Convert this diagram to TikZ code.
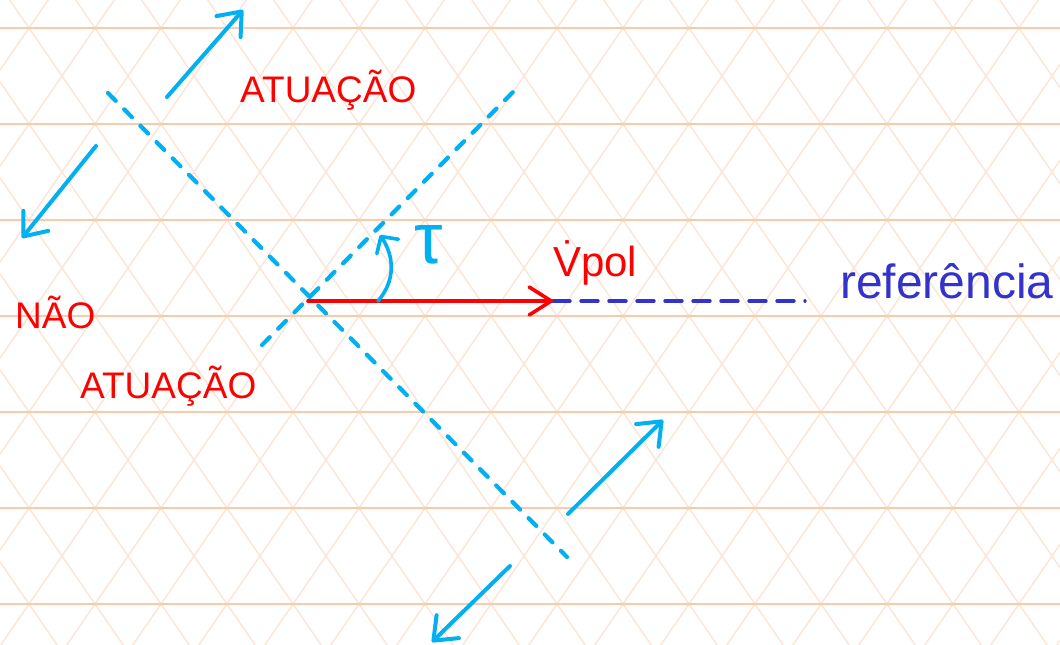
\documentclass[tikz,border=0pt]{standalone}
\usepackage{fontspec}
\setmainfont{Liberation Sans}
\usetikzlibrary{arrows.meta}
\definecolor{inkcyan}{RGB}{0,176,240}
\definecolor{inkred}{RGB}{255,0,0}
\definecolor{inkblue}{RGB}{51,51,204}
\definecolor{gridh}{RGB}{248,203,173}
\definecolor{gridd}{RGB}{251,229,214}
\begin{document}
\begin{tikzpicture}[x=1pt,y=-1pt,
  hline/.style={gridh, line width=1.8pt},
  dline/.style={gridd, line width=1.4pt},
  cyanarrow/.style={inkcyan, line width=4pt, line cap=round, -{Straight Barb[length=20pt,width=32pt,round]}},
  cyandash/.style={inkcyan, line width=4.2pt, line cap=round, dash pattern=on 11pt off 12pt},
  bluedash/.style={inkblue, line width=3.4pt, line cap=round, dash pattern=on 17pt off 11pt},
  redarrow/.style={inkred, line width=3.6pt, line cap=round, -{Straight Barb[length=22pt,width=28pt,round]}},
  anglearrow/.style={inkcyan, line width=3.6pt, line cap=round, -{Straight Barb[length=12pt,width=26pt,round]}},
  redlabel/.style={inkred, anchor=base west, inner sep=0pt, font=\fontsize{37}{40}\selectfont},
  bluelabel/.style={inkblue, anchor=base west, inner sep=0pt, font=\fontsize{48}{50}\selectfont}
]
\useasboundingbox (0,0) rectangle (1060,645);
\fill[white] (0,0) rectangle (1060,645);
\begin{scope}
\clip (0,0) rectangle (1060,645);
\foreach \j in {-8,...,16} \draw[dline] ({9.75+66*\j},0) -- ({453.19+66*\j},645);
\foreach \j in {-1,...,23} \draw[dline] ({48.25+66*\j},0) -- ({-395.19+66*\j},645);
\foreach \y in {28,124,...,604} \draw[hline] (0,\y) -- (1060,\y);
\end{scope}

% key points
\coordinate (o) at (308,301);
\coordinate (vtip) at (553,301);
\coordinate (refend) at (805,301);
\coordinate (d1a) at (108,93);
\coordinate (d1b) at (567,557);
\coordinate (d2a) at (262,345);
\coordinate (d2b) at (513,92);
\coordinate (arcS) at (378,301);
\coordinate (arcE) at (380,235);
\coordinate (a1s) at (167,97);
\coordinate (a1e) at (243,10);
\coordinate (a2s) at (96,146);
\coordinate (a2e) at (22,238);
\coordinate (a3s) at (568,514);
\coordinate (a3e) at (663,420);
\coordinate (a4s) at (510,566);
\coordinate (a4e) at (432,642);

% dashed boundary lines
\draw[cyandash] (d1a) -- (d1b);
\draw[cyandash] (d2a) -- (d2b);

% reference
\draw[bluedash] (vtip) -- (refend);
\draw[redarrow] (o) -- (vtip);

% angle
\draw[anglearrow] (arcS) .. controls (396,280) and (394,256) .. (arcE);

% direction arrows
\draw[cyanarrow] (a1s) -- (a1e);
\draw[cyanarrow] (a2s) -- (a2e);
\draw[cyanarrow] (a3s) -- (a3e);
\draw[cyanarrow] (a4s) -- (a4e);

% labels
\node[redlabel] (atop) at (240,102) {ATUAÇÃO};
\node[redlabel] (nao) at (15,328) {NÃO};
\node[redlabel] (abot) at (80,398) {ATUAÇÃO};
\node[redlabel, font=\fontsize{42}{44}\selectfont] (vpol) at (553,276) {\.{V}pol};
\node[bluelabel] (ref) at (840,298) {referência};
\node[inkcyan, anchor=base west, inner sep=0pt, font=\fontsize{72}{74}\selectfont] (tau) at (414,263) {τ};
\end{tikzpicture}
\end{document}
